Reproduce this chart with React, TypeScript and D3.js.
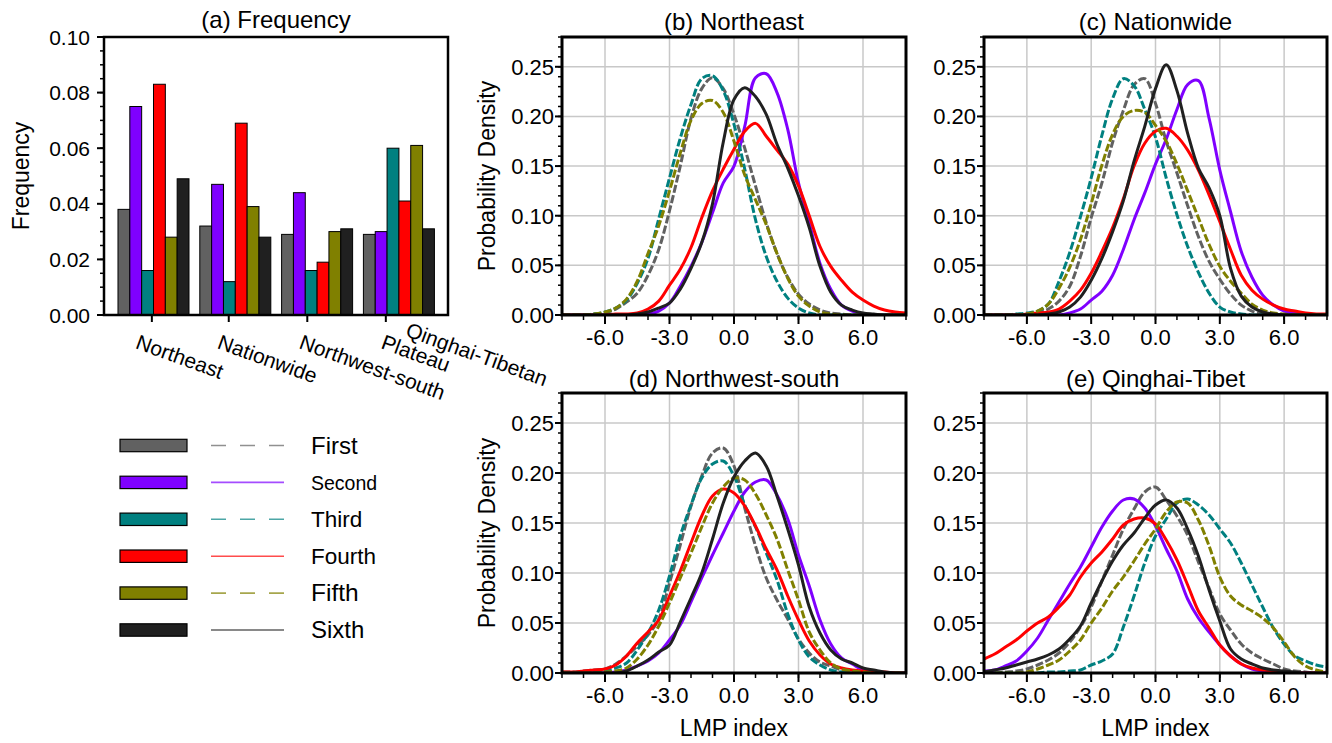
import React, { useEffect, useRef } from "react";
import * as d3 from "d3";

const FONT = "'Liberation Sans', Arial, Helvetica, sans-serif";

// the six series, same order everywhere
const seriesNames = ["First", "Second", "Third", "Fourth", "Fifth", "Sixth"];
const seriesColors = ["#616161", "#7f00ff", "#008080", "#ff0000", "#808000", "#202020"];
const seriesDashed = [true, false, true, false, true, false];
const legendFontSize = [24, 19.5, 22.5, 22.5, 24.5, 24];

// (a) frequency, one value per region
const regionLabels = [["Northeast"], ["Nationwide"], ["Northwest-south"], ["Qinghai-Tibetan", "Plateau"]];
const regionTickPos = [-0.02, 0.92, 1.88, 2.84];
const freqFirst = [0.038, 0.032, 0.029, 0.029];
const freqSecond = [0.075, 0.047, 0.044, 0.030];
const freqThird = [0.016, 0.012, 0.016, 0.060];
const freqFourth = [0.083, 0.069, 0.019, 0.041];
const freqFifth = [0.028, 0.039, 0.030, 0.061];
const freqSixth = [0.049, 0.028, 0.031, 0.031];
const freqSeries = [freqFirst, freqSecond, freqThird, freqFourth, freqFifth, freqSixth];

// LMP index sample points for the density curves
const lmpX = [-8, -7.5, -7, -6.5, -6, -5.5, -5, -4.5, -4, -3.5, -3, -2.5, -2, -1.5, -1, -0.5,
  0, 0.5, 1, 1.5, 2, 2.5, 3, 3.5, 4, 4.5, 5, 5.5, 6, 6.5, 7, 7.5, 8];
const lmpMajor = [-6, -3, 0, 3, 6];
const lmpMinor = [-8, -7, -6, -5, -4, -3, -2, -1, 0, 1, 2, 3, 4, 5, 6, 7, 8];
const pdfMajor = [0, 0.05, 0.1, 0.15, 0.2, 0.25];

// (b) Northeast
const neFirst = [0, 0, 0, 0.001, 0.002, 0.006, 0.013, 0.022, 0.040, 0.066, 0.105, 0.150, 0.198, 0.228, 0.239, 0.228,
  0.202, 0.168, 0.130, 0.093, 0.062, 0.038, 0.021, 0.011, 0.005, 0.002, 0.001, 0, 0, 0, 0, 0, 0];
const neSecond = [0, 0, 0, 0, 0, 0, 0, 0, 0.001, 0.004, 0.012, 0.029, 0.049, 0.073, 0.103, 0.133,
  0.150, 0.190, 0.239, 0.243, 0.224, 0.187, 0.133, 0.093, 0.052, 0.026, 0.010, 0.004, 0.001, 0, 0, 0, 0];
const neThird = [0, 0, 0, 0.001, 0.003, 0.007, 0.015, 0.032, 0.057, 0.097, 0.138, 0.178, 0.212, 0.238, 0.241, 0.226,
  0.192, 0.147, 0.096, 0.059, 0.034, 0.017, 0.007, 0.002, 0, 0, 0, 0, 0, 0, 0, 0, 0];
const neFourth = [0, 0, 0, 0, 0, 0.001, 0.001, 0.002, 0.006, 0.014, 0.030, 0.046, 0.068, 0.098, 0.125, 0.147,
  0.167, 0.185, 0.193, 0.180, 0.166, 0.152, 0.130, 0.100, 0.069, 0.049, 0.035, 0.023, 0.015, 0.009, 0.005, 0.003, 0.002];
const neFifth = [0, 0, 0, 0.001, 0.003, 0.007, 0.016, 0.034, 0.062, 0.090, 0.125, 0.163, 0.196, 0.213, 0.216, 0.204,
  0.175, 0.141, 0.116, 0.091, 0.062, 0.037, 0.019, 0.009, 0.003, 0.001, 0, 0, 0, 0, 0, 0, 0];
const neSixth = [0, 0, 0, 0, 0, 0, 0, 0.001, 0.003, 0.007, 0.012, 0.026, 0.047, 0.073, 0.112, 0.174,
  0.217, 0.229, 0.220, 0.202, 0.172, 0.148, 0.120, 0.088, 0.049, 0.023, 0.010, 0.005, 0.002, 0.001, 0, 0, 0];

// (c) Nationwide
const naFirst = [0, 0, 0, 0, 0, 0.002, 0.006, 0.014, 0.029, 0.059, 0.098, 0.133, 0.174, 0.206, 0.232, 0.238,
  0.213, 0.175, 0.143, 0.110, 0.079, 0.054, 0.036, 0.021, 0.010, 0.004, 0.001, 0, 0, 0, 0, 0, 0];
const naSecond = [0, 0, 0, 0, 0, 0, 0, 0, 0.002, 0.006, 0.015, 0.024, 0.040, 0.066, 0.096, 0.123,
  0.152, 0.177, 0.207, 0.232, 0.236, 0.198, 0.146, 0.104, 0.064, 0.038, 0.020, 0.010, 0.004, 0.002, 0.001, 0, 0];
const naThird = [0, 0, 0, 0.001, 0.002, 0.004, 0.011, 0.034, 0.063, 0.099, 0.138, 0.181, 0.218, 0.238, 0.231, 0.207,
  0.179, 0.138, 0.101, 0.069, 0.043, 0.022, 0.008, 0.003, 0.001, 0, 0, 0, 0, 0, 0, 0, 0];
const naFourth = [0, 0, 0, 0, 0.001, 0.002, 0.003, 0.006, 0.014, 0.025, 0.042, 0.064, 0.088, 0.117, 0.150, 0.173,
  0.185, 0.188, 0.180, 0.166, 0.146, 0.121, 0.094, 0.066, 0.040, 0.025, 0.016, 0.010, 0.006, 0.004, 0.002, 0.001, 0.001];
const naFifth = [0, 0, 0, 0, 0.001, 0.004, 0.011, 0.027, 0.048, 0.076, 0.112, 0.151, 0.182, 0.200, 0.206, 0.204,
  0.191, 0.175, 0.152, 0.125, 0.098, 0.071, 0.049, 0.034, 0.022, 0.011, 0.005, 0.002, 0.001, 0, 0, 0, 0];
const naSixth = [0, 0, 0, 0, 0, 0, 0.001, 0.003, 0.008, 0.018, 0.035, 0.057, 0.084, 0.115, 0.155, 0.190,
  0.228, 0.252, 0.226, 0.183, 0.148, 0.128, 0.100, 0.047, 0.019, 0.008, 0.003, 0.001, 0, 0, 0, 0, 0];

// (d) Northwest-south
const nwFirst = [0.001, 0.001, 0.002, 0.003, 0.004, 0.009, 0.017, 0.027, 0.038, 0.054, 0.090, 0.128, 0.167, 0.197, 0.220, 0.225,
  0.207, 0.165, 0.127, 0.095, 0.073, 0.054, 0.034, 0.020, 0.011, 0.007, 0.003, 0.002, 0.001, 0, 0, 0, 0];
const nwSecond = [0, 0, 0, 0, 0, 0.001, 0.003, 0.007, 0.012, 0.020, 0.033, 0.048, 0.071, 0.095, 0.118, 0.140,
  0.162, 0.181, 0.191, 0.193, 0.178, 0.154, 0.118, 0.087, 0.053, 0.029, 0.015, 0.009, 0.003, 0.001, 0, 0, 0];
const nwThird = [0, 0, 0, 0.001, 0.002, 0.005, 0.010, 0.023, 0.040, 0.063, 0.097, 0.137, 0.168, 0.195, 0.209, 0.212,
  0.197, 0.168, 0.146, 0.120, 0.093, 0.059, 0.033, 0.016, 0.008, 0.003, 0.001, 0, 0, 0, 0, 0, 0];
const nwFourth = [0.001, 0.001, 0.002, 0.003, 0.004, 0.008, 0.017, 0.030, 0.041, 0.053, 0.077, 0.102, 0.130, 0.157, 0.177, 0.184,
  0.180, 0.167, 0.147, 0.124, 0.103, 0.077, 0.053, 0.032, 0.018, 0.009, 0.005, 0.003, 0.002, 0.001, 0.001, 0, 0];
const nwFifth = [0, 0, 0, 0, 0.001, 0.002, 0.005, 0.014, 0.028, 0.047, 0.070, 0.095, 0.120, 0.146, 0.170, 0.186,
  0.195, 0.193, 0.179, 0.158, 0.134, 0.103, 0.073, 0.041, 0.023, 0.010, 0.004, 0.002, 0.001, 0, 0, 0, 0];
const nwSixth = [0, 0, 0, 0, 0, 0, 0.002, 0.007, 0.013, 0.021, 0.028, 0.051, 0.075, 0.100, 0.134, 0.170,
  0.196, 0.212, 0.220, 0.207, 0.177, 0.144, 0.108, 0.066, 0.040, 0.023, 0.014, 0.010, 0.005, 0.003, 0.001, 0, 0];

// (e) Qinghai-Tibet
const qtFirst = [0, 0, 0.001, 0.002, 0.004, 0.008, 0.013, 0.020, 0.031, 0.046, 0.066, 0.092, 0.118, 0.144, 0.164, 0.181,
  0.186, 0.173, 0.157, 0.138, 0.111, 0.085, 0.059, 0.043, 0.029, 0.020, 0.014, 0.009, 0.004, 0.002, 0.001, 0, 0];
const qtSecond = [0.002, 0.003, 0.007, 0.012, 0.022, 0.035, 0.053, 0.071, 0.089, 0.106, 0.126, 0.146, 0.162, 0.173, 0.174, 0.165,
  0.147, 0.124, 0.102, 0.074, 0.055, 0.041, 0.028, 0.017, 0.009, 0.004, 0.002, 0.001, 0, 0, 0, 0, 0];
const qtThird = [0, 0, 0, 0, 0, 0, 0.001, 0.001, 0.002, 0.003, 0.008, 0.012, 0.019, 0.046, 0.077, 0.110,
  0.137, 0.154, 0.170, 0.174, 0.168, 0.158, 0.144, 0.130, 0.110, 0.088, 0.066, 0.045, 0.029, 0.017, 0.012, 0.008, 0.006];
const qtFourth = [0.014, 0.019, 0.026, 0.033, 0.042, 0.050, 0.056, 0.066, 0.078, 0.096, 0.110, 0.121, 0.134, 0.148, 0.154, 0.155,
  0.149, 0.133, 0.113, 0.088, 0.062, 0.045, 0.028, 0.017, 0.009, 0.005, 0.003, 0.002, 0.001, 0, 0, 0, 0];
const qtFifth = [0, 0, 0, 0, 0.001, 0.004, 0.008, 0.013, 0.022, 0.033, 0.050, 0.065, 0.082, 0.096, 0.112, 0.129,
  0.144, 0.161, 0.171, 0.170, 0.153, 0.127, 0.096, 0.077, 0.068, 0.062, 0.055, 0.045, 0.031, 0.016, 0.007, 0.003, 0.001];
const qtSixth = [0.001, 0.003, 0.005, 0.008, 0.011, 0.014, 0.018, 0.024, 0.034, 0.047, 0.070, 0.092, 0.112, 0.128, 0.140, 0.155,
  0.168, 0.173, 0.165, 0.144, 0.117, 0.083, 0.052, 0.024, 0.014, 0.009, 0.005, 0.003, 0.002, 0.001, 0, 0, 0];

const panels = [
  { id: "b", title: "(b) Northeast", series: [neFirst, neSecond, neThird, neFourth, neFifth, neSixth],
    x0: 562, x1: 906, y0: 37, y1: 315, titleY: 30, yLabel: true, xLabel: false },
  { id: "c", title: "(c) Nationwide", series: [naFirst, naSecond, naThird, naFourth, naFifth, naSixth],
    x0: 984, x1: 1327, y0: 37, y1: 315, titleY: 30, yLabel: false, xLabel: false },
  { id: "d", title: "(d) Northwest-south", series: [nwFirst, nwSecond, nwThird, nwFourth, nwFifth, nwSixth],
    x0: 562, x1: 906, y0: 393, y1: 673, titleY: 387, yLabel: true, xLabel: true },
  { id: "e", title: "(e) Qinghai-Tibet", series: [qtFirst, qtSecond, qtThird, qtFourth, qtFifth, qtSixth],
    x0: 984, x1: 1327, y0: 393, y1: 673, titleY: 387, yLabel: false, xLabel: true },
];

function drawFrequency(svg: any) {
  const left = 104, right = 448, top = 37, bottom = 315;
  const x = d3.scaleLinear().domain([-0.605, 3.6]).range([left, right]);
  const y = d3.scaleLinear().domain([0, 0.1]).range([bottom, top]);
  const groupW = x(0.868) - x(0);
  const barW = groupW / seriesNames.length;
  const g = svg.append("g");

  freqSeries.forEach((vals, s) => {
    g.selectAll(null)
      .data(vals)
      .enter()
      .append("rect")
      .attr("x", (d: number, i: number) => x(i) - groupW / 2 + s * barW)
      .attr("y", (d: number) => y(d))
      .attr("width", barW)
      .attr("height", (d: number) => bottom - y(d))
      .attr("fill", seriesColors[s])
      .attr("stroke", "#000")
      .attr("stroke-width", 1);
  });

  g.append("rect")
    .attr("x", left).attr("y", top)
    .attr("width", right - left).attr("height", bottom - top)
    .attr("fill", "none").attr("stroke", "#000").attr("stroke-width", 2.5);

  // y ticks
  y.ticks(20).forEach((v) => {
    g.append("line").attr("x1", left).attr("x2", left - 4)
      .attr("y1", y(v)).attr("y2", y(v)).attr("stroke", "#000").attr("stroke-width", 1.5);
  });
  y.ticks(5).forEach((v) => {
    g.append("line").attr("x1", left).attr("x2", left - 7)
      .attr("y1", y(v)).attr("y2", y(v)).attr("stroke", "#000").attr("stroke-width", 2);
    g.append("text").text(v.toFixed(2))
      .attr("x", left - 14).attr("y", y(v)).attr("dy", "0.36em")
      .attr("text-anchor", "end").style("font-size", "21px");
  });

  // category ticks and rotated labels
  regionTickPos.forEach((p) => {
    g.append("line").attr("x1", x(p)).attr("x2", x(p))
      .attr("y1", bottom).attr("y2", bottom + 7).attr("stroke", "#000").attr("stroke-width", 2);
  });
  regionLabels.forEach((lines, i) => {
    const lg = g.append("g").attr("transform", "translate(" + (x(i) - 19) + "," + (bottom + 33) + ") rotate(20)");
    lines.forEach((t, k) => {
      const isUpper = lines.length > 1 && k === 0;
      lg.append("text").text(t)
        .attr("x", isUpper ? 19 : 0).attr("y", isUpper ? -20 : 0)
        .style("font-size", "21px");
    });
  });

  g.append("text").text("(a) Frequency")
    .attr("x", (left + right) / 2).attr("y", 28)
    .attr("text-anchor", "middle").style("font-size", "24px");
  g.append("text").text("Frequency")
    .attr("transform", "translate(29,176) rotate(-90)")
    .attr("text-anchor", "middle").style("font-size", "23px");
}

function drawLegend(svg: any) {
  const row = d3.scaleLinear().domain([0, 5]).range([445.5, 630]);
  const g = svg.append("g");
  seriesNames.forEach((name, i) => {
    const cy = row(i);
    g.append("rect")
      .attr("x", 120).attr("y", cy - 6.2).attr("width", 67).attr("height", 12.4)
      .attr("fill", seriesColors[i]).attr("stroke", "#000").attr("stroke-width", 1.2);
    g.append("line")
      .attr("x1", 211).attr("x2", 284).attr("y1", cy).attr("y2", cy)
      .attr("stroke", seriesColors[i]).attr("stroke-opacity", 0.7).attr("stroke-width", 1.6)
      .attr("stroke-dasharray", seriesDashed[i] ? "15,14" : null);
    g.append("text").text(name)
      .attr("x", 311).attr("y", cy + 8)
      .style("font-size", legendFontSize[i] + "px");
  });
}

function drawPanel(svg: any, p: any) {
  const x = d3.scaleLinear().domain([-8, 8]).range([p.x0, p.x1]);
  const y = d3.scaleLinear().domain([0, 0.28]).range([p.y1, p.y0]);
  const g = svg.append("g");
  const clipId = "clip-" + p.id;
  svg.append("defs").append("clipPath").attr("id", clipId)
    .append("rect").attr("x", p.x0).attr("y", p.y0)
    .attr("width", p.x1 - p.x0).attr("height", p.y1 - p.y0);

  // grid
  lmpMajor.forEach((v) => {
    g.append("line").attr("x1", x(v)).attr("x2", x(v)).attr("y1", p.y0).attr("y2", p.y1)
      .attr("stroke", "#c8c8c8").attr("stroke-width", 1.5);
  });
  pdfMajor.slice(1).forEach((v) => {
    g.append("line").attr("x1", p.x0).attr("x2", p.x1).attr("y1", y(v)).attr("y2", y(v))
      .attr("stroke", "#c8c8c8").attr("stroke-width", 1.5);
  });

  // density curves
  const line = d3.line<number>()
    .x((d, i) => x(lmpX[i]))
    .y((d) => y(d))
    .curve(d3.curveCatmullRom.alpha(0.5));
  const cg = g.append("g").attr("clip-path", "url(#" + clipId + ")");
  p.series.forEach((vals: number[], s: number) => {
    cg.append("path")
      .attr("d", line(vals))
      .attr("fill", "none")
      .attr("stroke", seriesColors[s])
      .attr("stroke-width", 3)
      .attr("stroke-linejoin", "round")
      .attr("stroke-dasharray", seriesDashed[s] ? "8,2.5" : null);
  });

  g.append("rect")
    .attr("x", p.x0).attr("y", p.y0)
    .attr("width", p.x1 - p.x0).attr("height", p.y1 - p.y0)
    .attr("fill", "none").attr("stroke", "#000").attr("stroke-width", 3);

  // y ticks
  d3.range(0, 0.2801, 0.01).forEach((v) => {
    g.append("line").attr("x1", p.x0).attr("x2", p.x0 - 4)
      .attr("y1", y(v)).attr("y2", y(v)).attr("stroke", "#000").attr("stroke-width", 1.5);
  });
  pdfMajor.forEach((v) => {
    g.append("line").attr("x1", p.x0).attr("x2", p.x0 - 7)
      .attr("y1", y(v)).attr("y2", y(v)).attr("stroke", "#000").attr("stroke-width", 2);
    g.append("text").text(v.toFixed(2))
      .attr("x", p.x0 - 8).attr("y", y(v)).attr("dy", "0.36em")
      .attr("text-anchor", "end").style("font-size", "22px");
  });

  // x ticks
  lmpMinor.forEach((v) => {
    g.append("line").attr("x1", x(v)).attr("x2", x(v))
      .attr("y1", p.y1).attr("y2", p.y1 + 5).attr("stroke", "#000").attr("stroke-width", 1.5);
  });
  lmpMajor.forEach((v) => {
    g.append("line").attr("x1", x(v)).attr("x2", x(v))
      .attr("y1", p.y1).attr("y2", p.y1 + 9).attr("stroke", "#000").attr("stroke-width", 2);
    g.append("text").text(v.toFixed(1))
      .attr("x", x(v)).attr("y", p.y1 + 30)
      .attr("text-anchor", "middle").style("font-size", "22px");
  });

  g.append("text").text(p.title)
    .attr("x", (p.x0 + p.x1) / 2).attr("y", p.titleY)
    .attr("text-anchor", "middle").style("font-size", "24px");

  if (p.yLabel) {
    g.append("text").text("Probability Density")
      .attr("transform", "translate(495," + (p.y0 + p.y1) / 2 + ") rotate(-90)")
      .attr("text-anchor", "middle").style("font-size", "23px");
  }
  if (p.xLabel) {
    g.append("text").text("LMP index")
      .attr("x", (p.x0 + p.x1) / 2).attr("y", 736)
      .attr("text-anchor", "middle").style("font-size", "23px");
  }
}

const App = () => {
  const ref = useRef<SVGSVGElement>(null);
  useEffect(() => {
    const svg = d3.select(ref.current);
    svg.selectAll("*").remove();
    drawFrequency(svg);
    drawLegend(svg);
    panels.forEach((p) => drawPanel(svg, p));
  }, []);
  return (
    <svg
      ref={ref}
      width={1332}
      height={743}
      style={{ position: "absolute", left: 0, top: 0, background: "#fff", fontFamily: FONT }}
    />
  );
};

export default App;
